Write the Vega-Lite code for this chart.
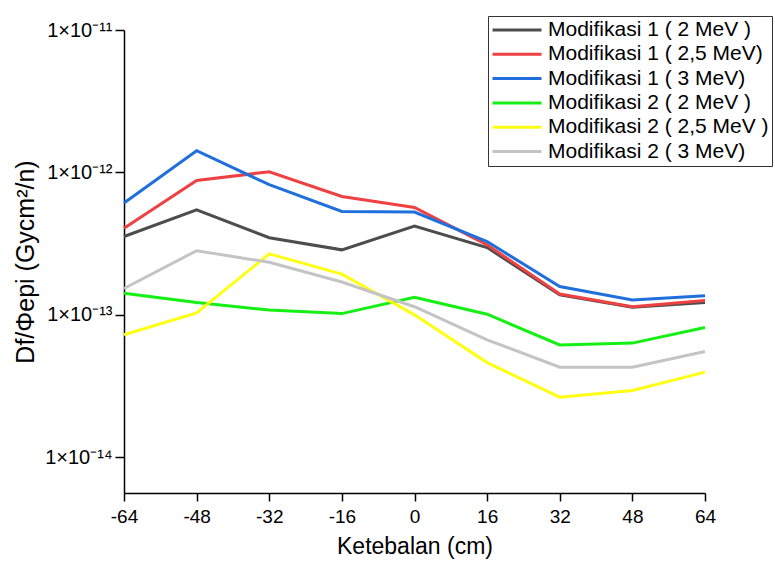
{
  "$schema": "https://vega.github.io/schema/vega-lite/v6.json",
  "width": 581,
  "height": 463,
  "autosize": {"type": "none"},
  "padding": {"left": 124, "top": 30, "right": 70, "bottom": 72},
  "background": "white",
  "config": {
    "view": {"stroke": null},
    "font": "Liberation Sans",
    "axis": {"grid": false, "domainColor": "black", "tickColor": "black", "labelColor": "black", "titleColor": "black", "domainWidth": 1.5, "tickWidth": 1.5, "titleFontWeight": "normal", "labelFont": "Liberation Sans", "titleFont": "Liberation Sans"},
    "legend": {"labelFont": "Liberation Sans"}
  },
  "data": {
    "values": [
      {"s": "Modifikasi 1 ( 2 MeV )", "x": -64, "v": 3.55e-13},
      {"s": "Modifikasi 1 ( 2 MeV )", "x": -48, "v": 5.45e-13},
      {"s": "Modifikasi 1 ( 2 MeV )", "x": -32, "v": 3.48e-13},
      {"s": "Modifikasi 1 ( 2 MeV )", "x": -16, "v": 2.86e-13},
      {"s": "Modifikasi 1 ( 2 MeV )", "x": 0, "v": 4.2e-13},
      {"s": "Modifikasi 1 ( 2 MeV )", "x": 16, "v": 2.97e-13},
      {"s": "Modifikasi 1 ( 2 MeV )", "x": 32, "v": 1.38e-13},
      {"s": "Modifikasi 1 ( 2 MeV )", "x": 48, "v": 1.13e-13},
      {"s": "Modifikasi 1 ( 2 MeV )", "x": 64, "v": 1.22e-13},
      {"s": "Modifikasi 1 ( 2,5 MeV)", "x": -64, "v": 4.06e-13},
      {"s": "Modifikasi 1 ( 2,5 MeV)", "x": -48, "v": 8.79e-13},
      {"s": "Modifikasi 1 ( 2,5 MeV)", "x": -32, "v": 1.01e-12},
      {"s": "Modifikasi 1 ( 2,5 MeV)", "x": -16, "v": 6.78e-13},
      {"s": "Modifikasi 1 ( 2,5 MeV)", "x": 0, "v": 5.68e-13},
      {"s": "Modifikasi 1 ( 2,5 MeV)", "x": 16, "v": 3.1e-13},
      {"s": "Modifikasi 1 ( 2,5 MeV)", "x": 32, "v": 1.4e-13},
      {"s": "Modifikasi 1 ( 2,5 MeV)", "x": 48, "v": 1.14e-13},
      {"s": "Modifikasi 1 ( 2,5 MeV)", "x": 64, "v": 1.26e-13},
      {"s": "Modifikasi 1 ( 3 MeV)", "x": -64, "v": 6.1e-13},
      {"s": "Modifikasi 1 ( 3 MeV)", "x": -48, "v": 1.42e-12},
      {"s": "Modifikasi 1 ( 3 MeV)", "x": -32, "v": 8.2e-13},
      {"s": "Modifikasi 1 ( 3 MeV)", "x": -16, "v": 5.32e-13},
      {"s": "Modifikasi 1 ( 3 MeV)", "x": 0, "v": 5.27e-13},
      {"s": "Modifikasi 1 ( 3 MeV)", "x": 16, "v": 3.27e-13},
      {"s": "Modifikasi 1 ( 3 MeV)", "x": 32, "v": 1.58e-13},
      {"s": "Modifikasi 1 ( 3 MeV)", "x": 48, "v": 1.27e-13},
      {"s": "Modifikasi 1 ( 3 MeV)", "x": 64, "v": 1.36e-13},
      {"s": "Modifikasi 2 ( 2 MeV )", "x": -64, "v": 1.42e-13},
      {"s": "Modifikasi 2 ( 2 MeV )", "x": -48, "v": 1.22e-13},
      {"s": "Modifikasi 2 ( 2 MeV )", "x": -32, "v": 1.08e-13},
      {"s": "Modifikasi 2 ( 2 MeV )", "x": -16, "v": 1.02e-13},
      {"s": "Modifikasi 2 ( 2 MeV )", "x": 0, "v": 1.33e-13},
      {"s": "Modifikasi 2 ( 2 MeV )", "x": 16, "v": 1.01e-13},
      {"s": "Modifikasi 2 ( 2 MeV )", "x": 32, "v": 6.15e-14},
      {"s": "Modifikasi 2 ( 2 MeV )", "x": 48, "v": 6.33e-14},
      {"s": "Modifikasi 2 ( 2 MeV )", "x": 64, "v": 8.14e-14},
      {"s": "Modifikasi 2 ( 2,5 MeV )", "x": -64, "v": 7.24e-14},
      {"s": "Modifikasi 2 ( 2,5 MeV )", "x": -48, "v": 1.03e-13},
      {"s": "Modifikasi 2 ( 2,5 MeV )", "x": -32, "v": 2.68e-13},
      {"s": "Modifikasi 2 ( 2,5 MeV )", "x": -16, "v": 1.93e-13},
      {"s": "Modifikasi 2 ( 2,5 MeV )", "x": 0, "v": 1.0e-13},
      {"s": "Modifikasi 2 ( 2,5 MeV )", "x": 16, "v": 4.62e-14},
      {"s": "Modifikasi 2 ( 2,5 MeV )", "x": 32, "v": 2.64e-14},
      {"s": "Modifikasi 2 ( 2,5 MeV )", "x": 48, "v": 2.94e-14},
      {"s": "Modifikasi 2 ( 2,5 MeV )", "x": 64, "v": 3.96e-14},
      {"s": "Modifikasi 2 ( 3 MeV)", "x": -64, "v": 1.53e-13},
      {"s": "Modifikasi 2 ( 3 MeV)", "x": -48, "v": 2.82e-13},
      {"s": "Modifikasi 2 ( 3 MeV)", "x": -32, "v": 2.34e-13},
      {"s": "Modifikasi 2 ( 3 MeV)", "x": -16, "v": 1.7e-13},
      {"s": "Modifikasi 2 ( 3 MeV)", "x": 0, "v": 1.14e-13},
      {"s": "Modifikasi 2 ( 3 MeV)", "x": 16, "v": 6.67e-14},
      {"s": "Modifikasi 2 ( 3 MeV)", "x": 32, "v": 4.29e-14},
      {"s": "Modifikasi 2 ( 3 MeV)", "x": 48, "v": 4.29e-14},
      {"s": "Modifikasi 2 ( 3 MeV)", "x": 64, "v": 5.52e-14}
    ]
  },
  "mark": {"type": "line", "strokeWidth": 3},
  "encoding": {
    "x": {
      "field": "x", "type": "quantitative",
      "scale": {"domain": [-64, 64], "nice": false, "zero": false},
      "axis": {"values": [-64, -48, -32, -16, 0, 16, 32, 48, 64], "labelExpr": "datum.value < 0 ? '-' + abs(datum.value) : '' + datum.value", "title": "Ketebalan (cm)", "labelFontSize": 19, "titleFontSize": 23, "tickSize": 8, "labelPadding": 6, "titlePadding": 9, "labelFlush": false, "labelOverlap": false}
    },
    "y": {
      "field": "v", "type": "quantitative",
      "scale": {"type": "log", "domain": [5.61e-15, 1e-11], "nice": false},
      "axis": {
        "values": [1e-14, 1e-13, 1e-12, 1e-11],
        "labelExpr": "datum.value >= 9e-12 ? '1×10⁻¹¹' : datum.value >= 9e-13 ? '1×10⁻¹²' : datum.value >= 9e-14 ? '1×10⁻¹³' : '1×10⁻¹⁴'",
        "title": "Df/Φepi (Gycm²/n)", "labelFontSize": 20, "titleFontSize": 25, "tickSize": 9, "labelPadding": 3, "titlePadding": 6
      }
    },
    "color": {
      "field": "s", "type": "nominal", "sort": null,
      "scale": {
        "domain": ["Modifikasi 1 ( 2 MeV )", "Modifikasi 1 ( 2,5 MeV)", "Modifikasi 1 ( 3 MeV)", "Modifikasi 2 ( 2 MeV )", "Modifikasi 2 ( 2,5 MeV )", "Modifikasi 2 ( 3 MeV)"],
        "range": ["#4d4d4d", "#ef4141", "#1f6fdc", "#14f014", "#ffff14", "#c4c4c4"]
      },
      "legend": {
        "orient": "none", "legendX": 364, "legendY": -14, "title": null,
        "symbolType": "stroke", "symbolSize": 2401, "symbolStrokeWidth": 3,
        "clipHeight": 22, "rowPadding": 2.3,
        "labelFontSize": 21, "labelLimit": 400, "labelOffset": 5, "labelColor": "black",
        "strokeColor": "#333333", "padding": 3, "fillColor": "white"
      }
    }
  }
}
